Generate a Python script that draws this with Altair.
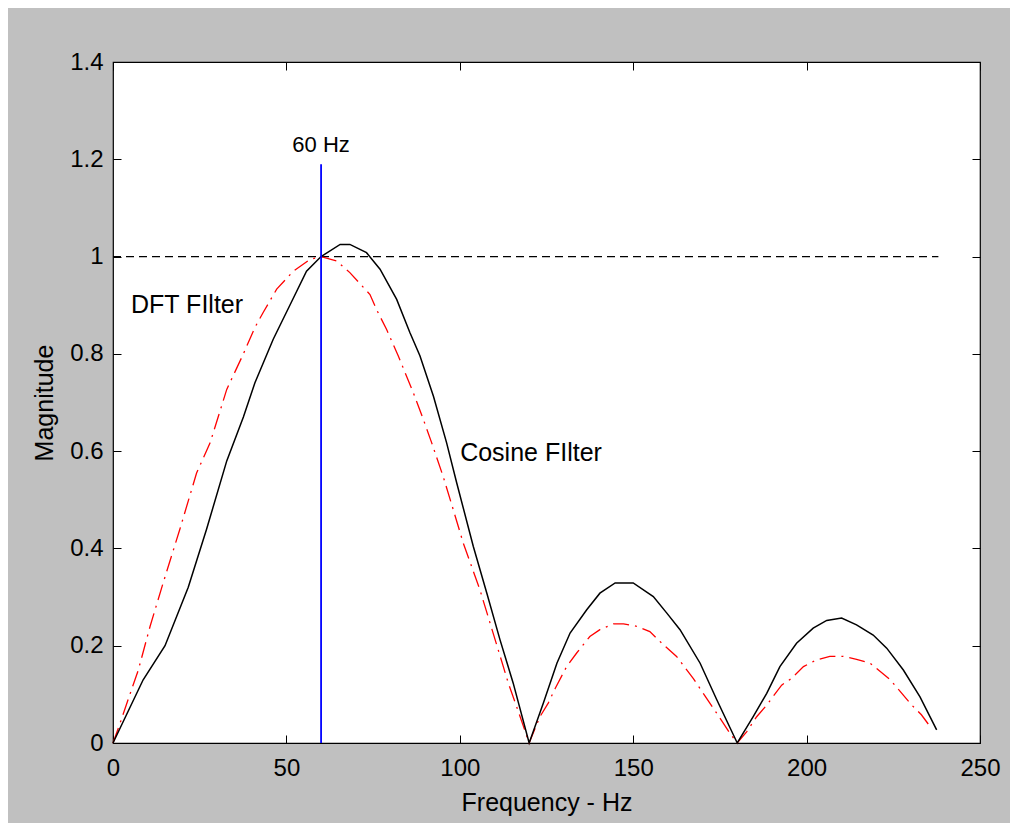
import altair as alt
import pandas as pd

# Cosine filter (black solid)
cos_freq = [0, 8.7, 15, 21.7, 27, 32.8, 37.6, 40.9, 46.2, 51, 55.8, 60, 65.5, 68.3, 73.1, 77,
            81.8, 85.6, 88.5, 92.4, 96.2, 99.1, 103.9, 107.8, 111.6, 115.4, 120, 124.1, 128,
            131.8, 136.6, 140.4, 144.8, 150, 155.8, 159.7, 163.5, 169.3, 174.1, 180, 184.6,
            188.5, 192.3, 197.1, 201.9, 205.8, 210.1, 214.4, 219.2, 223.1, 227.9, 232.7, 237.5]
cos_mag = [0, 0.13, 0.20, 0.32, 0.44, 0.58, 0.67, 0.74, 0.83, 0.90, 0.97, 1.00, 1.025, 1.025,
           1.008, 0.974, 0.912, 0.844, 0.796, 0.713, 0.617, 0.535, 0.404, 0.308, 0.212, 0.123,
           0, 0.082, 0.164, 0.226, 0.274, 0.308, 0.329, 0.329, 0.301, 0.267, 0.233, 0.164,
           0.089, 0, 0.054, 0.102, 0.157, 0.205, 0.236, 0.252, 0.257, 0.243, 0.222, 0.195,
           0.150, 0.095, 0.027]

# DFT filter (red dash-dot)
dft_freq = [0, 2, 4.4, 7.3, 10.7, 14.5, 19.3, 24.1, 28, 32.8, 37.6, 40.9, 43.3, 47.2, 52, 56.8,
            60, 64.5, 68.3, 74.1, 76, 78.9, 82.3, 86.6, 89.5, 91.9, 95.2, 98.1, 101, 105.8,
            111.1, 114, 117.4, 120, 123.1, 125.5, 127.5, 130.8, 133.7, 137.5, 140.4, 144.3,
            147.2, 151, 154.8, 158.7, 162.5, 167.3, 170.2, 174.1, 177.9, 180, 182.7, 185.6,
            188.5, 192.8, 195.7, 199.1, 202.9, 206.7, 210.6, 214.4, 218.3, 224, 230.3, 233.1,
            235.6]
dft_mag = [0, 0.04, 0.09, 0.15, 0.24, 0.33, 0.44, 0.555, 0.617, 0.727, 0.80, 0.854, 0.885,
           0.933, 0.970, 0.994, 1.0, 0.991, 0.967, 0.922, 0.891, 0.850, 0.795, 0.720, 0.665,
           0.617, 0.548, 0.480, 0.411, 0.315, 0.191, 0.123, 0.054, 0, 0.054, 0.082, 0.112,
           0.157, 0.185, 0.219, 0.233, 0.245, 0.245, 0.240, 0.229, 0.202, 0.178, 0.133, 0.102,
           0.061, 0.020, 0, 0.023, 0.054, 0.078, 0.119, 0.133, 0.157, 0.171, 0.178, 0.178,
           0.172, 0.164, 0.131, 0.078, 0.058, 0.034]

x_ticks = [0, 50, 100, 150, 200, 250]
y_ticks = [0, 0.2, 0.4, 0.6, 0.8, 1.0, 1.2, 1.4]

marker_freq = [60]
marker_lo = [0]
marker_hi = [1.19]
ref_level = [1.0]
ref_start = [0]
ref_end = [238]

center_text = ["60 Hz"]
center_x = [60]
center_y = [1.23]
left_text = ["DFT FIlter", "Cosine FIlter"]
left_x = [5.2, 100.1]
left_y = [0.90, 0.597]

W, H = 867, 681
FONT = "Liberation Sans"
TICK_FS = 24
TITLE_FS = 25
TEXT_FS = 25

cos_df = pd.DataFrame({"f": cos_freq, "m": cos_mag})
dft_df = pd.DataFrame({"f": dft_freq, "m": dft_mag})
marker_df = pd.DataFrame({"f": marker_freq, "lo": marker_lo, "hi": marker_hi})
ref_df = pd.DataFrame({"m": ref_level, "f0": ref_start, "f1": ref_end})
cl_df = pd.DataFrame({"t": center_text, "f": center_x, "m": center_y})
ll_df = pd.DataFrame({"t": left_text, "f": left_x, "m": left_y})

xs = alt.Scale(domain=[0, 250], nice=False, zero=False)
ys = alt.Scale(domain=[0, 1.4], nice=False, zero=False)

common = dict(grid=False, domain=False, labelFont=FONT, labelFontSize=TICK_FS, titleFont=FONT,
              titleFontSize=TITLE_FS, titleFontWeight="normal", labelColor="black",
              titleColor="black", tickColor="black", labelFlush=False, labelOverlap=False,
              labelBound=False)

x_label_axis = alt.Axis(orient="bottom", values=x_ticks, ticks=False, tickSize=0,
                        labelPadding=13, title="Frequency - Hz", titlePadding=10, **common)
y_label_axis = alt.Axis(orient="left", values=y_ticks, ticks=False, tickSize=0,
                        labelPadding=10, format="~g", title="Magnitude", titlePadding=12,
                        **common)


def tick_axis(orient, values, offset):
    return alt.Axis(orient=orient, values=values, offset=offset, labels=False, ticks=True,
                    tickSize=8, tickWidth=1, title=None, grid=False, domain=False,
                    tickColor="black")


dft = alt.Chart(dft_df).mark_line(color="#ff0000", strokeWidth=1.3,
                                  strokeDash=[16, 6, 2, 6]).encode(
    x=alt.X("f:Q", scale=xs, axis=x_label_axis),
    y=alt.Y("m:Q", scale=ys, axis=y_label_axis),
)

cos = alt.Chart(cos_df).mark_line(color="black", strokeWidth=1.5).encode(
    x=alt.X("f:Q", scale=xs, axis=tick_axis("top", x_ticks, -H)),
    y=alt.Y("m:Q", scale=ys, axis=tick_axis("right", y_ticks, -W)),
)

marker = alt.Chart(marker_df).mark_rule(color="#0000ff", strokeWidth=1.8).encode(
    x=alt.X("f:Q", scale=xs, axis=tick_axis("bottom", x_ticks, -H)),
    y=alt.Y("lo:Q", scale=ys, axis=tick_axis("left", y_ticks, -W)),
    y2="hi:Q",
)

ref = alt.Chart(ref_df).mark_rule(color="black", strokeWidth=1.3, strokeDash=[8, 5]).encode(
    x=alt.X("f0:Q", scale=xs, axis=None),
    x2="f1:Q",
    y=alt.Y("m:Q", scale=ys, axis=None),
)

clabels = alt.Chart(cl_df).mark_text(font=FONT, fontSize=22, color="black",
                                     baseline="middle", align="center").encode(
    x=alt.X("f:Q", scale=xs, axis=None),
    y=alt.Y("m:Q", scale=ys, axis=None),
    text="t:N",
)

llabels = alt.Chart(ll_df).mark_text(font=FONT, fontSize=TEXT_FS, color="black",
                                     baseline="middle", align="left").encode(
    x=alt.X("f:Q", scale=xs, axis=None),
    y=alt.Y("m:Q", scale=ys, axis=None),
    text="t:N",
)

chart = alt.layer(ref, dft, cos, marker, clabels, llabels).resolve_axis(
    x="independent", y="independent"
).properties(
    width=W, height=H,
    autosize=alt.AutoSizeParams(type="none"),
    padding={"left": 105, "top": 54, "right": 30, "bottom": 80},
    background="#c0c0c0",
).configure_view(stroke="black", strokeWidth=1.2, fill="white")

chart.save("out.html", embed_options={"renderer": "svg", "actions": False})
